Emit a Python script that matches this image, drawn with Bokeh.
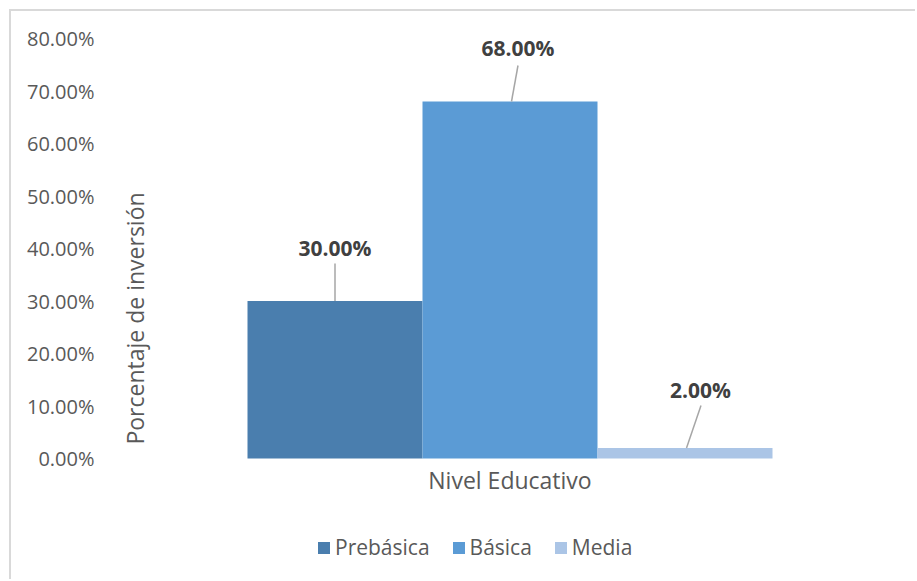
from bokeh.plotting import figure
from bokeh.models import (Range1d, NumeralTickFormatter, FixedTicker,
                          Legend, LegendItem, Label, ColumnDataSource)
from bokeh.embed import file_html
from bokeh.resources import INLINE
from bokeh.core.properties import value

# ---- data ----
category = "Nivel Educativo"
series = ["Prebásica", "Básica", "Media"]
values = [0.30, 0.68, 0.02]
colors = ["#4A7EAE", "#5B9BD5", "#ABC5E6"]
y_ticks = [0.0, 0.1, 0.2, 0.3, 0.4, 0.5, 0.6, 0.7, 0.8]
y_title = "Porcentaje de inversión"

FONT = "Open Sans"
OFF = 11                            # canvas offset (margin 9 + border 2)
W, H = 917 - OFF, 581 - OFF
LEFT, RIGHT, TOP = 105 - OFF, 72, 38 - OFF
BOTTOM = 0
frame_w = W - LEFT - RIGHT
frame_h = H - TOP - BOTTOM
zero_px = 458 - OFF                 # canvas y of the 0 % line
bar_px = 175.0                      # one x unit = one bar
first_bar_px = 229.5                # first bar centre from frame left
y_max = y_ticks[-1]
ky = y_max / (zero_px - TOP)        # data units per pixel
y_min = -(H - zero_px) * ky         # room below zero for category label + legend

x_start = -first_bar_px / bar_px
x_end = (frame_w - first_bar_px) / bar_px

p = figure(width=W, height=H, output_backend="svg", toolbar_location=None,
           x_range=Range1d(x_start, x_end), y_range=Range1d(y_min, y_max),
           min_border_left=LEFT, min_border_right=RIGHT, min_border_top=TOP,
           min_border_bottom=BOTTOM)
p.margin = (9, 0, 0, 9)
p.styles = {"border-top": "2px solid #D9D9D9", "border-left": "2px solid #D9D9D9"}
p.outline_line_color = None
p.xgrid.visible = False
p.ygrid.visible = False
p.xaxis.visible = False
p.background_fill_color = "white"
p.border_fill_color = "white"

label_dy = [-53.5, -54, -58.5]       # px above bar top (label centre)
label_dx = [0, 8, 15.5]
lead_top = [37.5, 36, 42.5]          # px above bar top
lead_dx_top = [0, 8, 16]
lead_dx_bot = [0, 1.5, 1.5]

items = []
for i, (name, v, c) in enumerate(zip(series, values, colors)):
    src = ColumnDataSource(dict(x=[i], top=[v], lab=[f"{v*100:.2f}%"],
                                xb=[i + lead_dx_bot[i] / bar_px],
                                xt=[i + lead_dx_top[i] / bar_px],
                                ytop=[v + lead_top[i] * ky]))
    r = p.vbar(x="x", top="top", bottom=0, width=1.0, source=src, fill_color=c, line_color=None)
    items.append(LegendItem(label=name, renderers=[r]))
    p.segment(x0="xb", y0="top", x1="xt", y1="ytop", source=src,
              line_color="#A6A6A6", line_width=1.5)
    p.text(x="x", y="top", text="lab", source=src,
           x_offset=label_dx[i], y_offset=label_dy[i],
           text_font=value(FONT), text_font_style="bold", text_font_size="21px",
           text_color="#404040", text_align="center", text_baseline="middle")

# category label centred under the bar group
mid = (len(series) - 1) / 2
p.text(x=[mid], y=[0.0], text=[category], y_offset=5,
       text_font=value(FONT), text_font_size="23px", text_color="#595959",
       text_align="center", text_baseline="top")

# y axis
ya = p.yaxis[0]
ya.ticker = FixedTicker(ticks=y_ticks)
ya.formatter = NumeralTickFormatter(format="0.00%")
ya.axis_line_color = None
ya.major_tick_line_color = None
ya.minor_tick_line_color = None
ya.major_tick_out = 0
ya.major_label_standoff = 11
ya.major_label_text_font = FONT
ya.major_label_text_font_size = "20px"
ya.major_label_text_color = "#595959"

# y title placed inside, to the right of tick labels
p.add_layout(Label(x=29, y=H - (318 - OFF), x_units="screen", y_units="screen", text=y_title,
                   angle=90, angle_units="deg", text_align="center", text_baseline="middle",
                   text_font=FONT, text_font_size="23px", text_color="#595959"))

legend = Legend(items=items, orientation="horizontal", location=(316 - 105, 20),
                label_text_font=FONT, label_text_font_size="21px", label_text_color="#595959",
                glyph_width=15, glyph_height=15, label_standoff=4, spacing=21,
                padding=0, margin=0, border_line_color=None, background_fill_alpha=0,
                label_height=24)
p.add_layout(legend, "center")

open("out.html", "w").write(file_html(p, INLINE))
